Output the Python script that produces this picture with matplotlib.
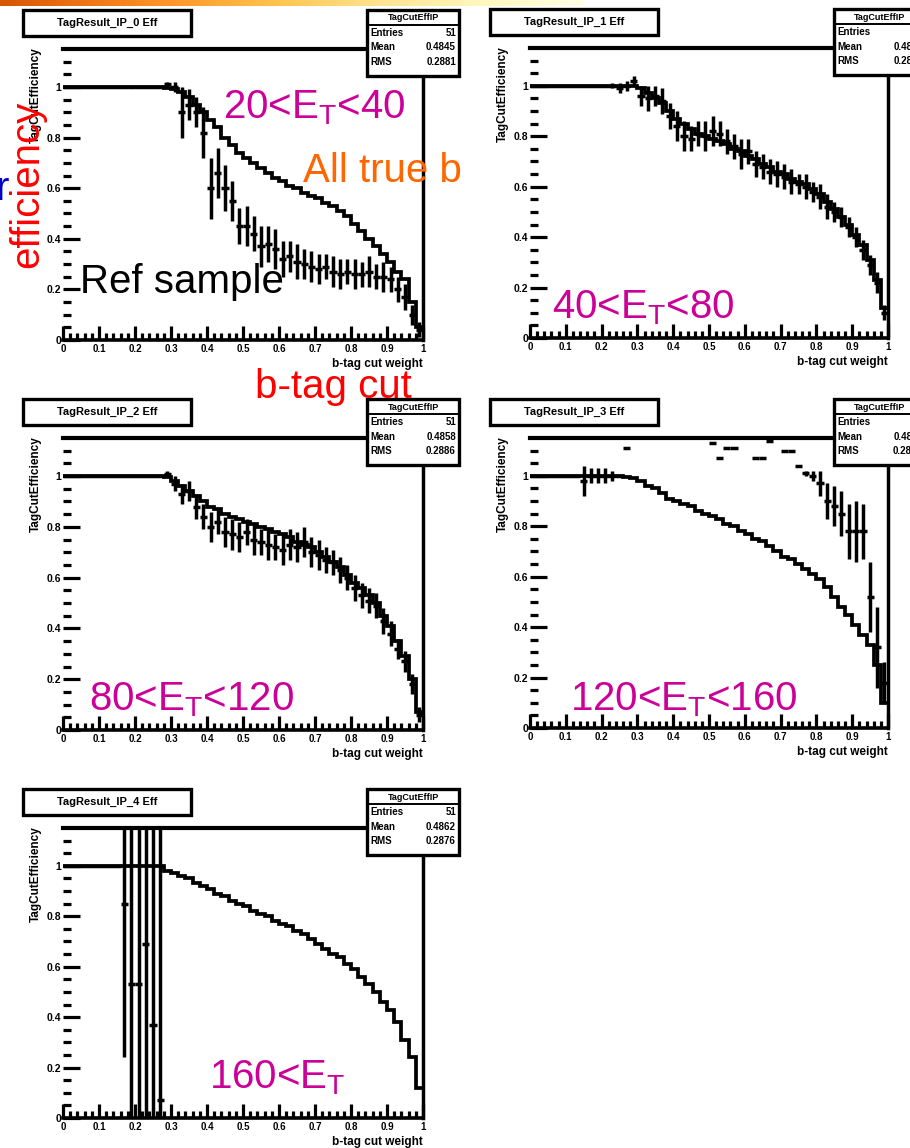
import numpy as np
import matplotlib.pyplot as plt
from matplotlib.patches import Rectangle
from matplotlib.lines import Line2D

plt.rcParams['font.family'] = ['Liberation Sans', 'DejaVu Sans']
plt.rcParams['mathtext.fontset'] = 'custom'
plt.rcParams['mathtext.rm'] = 'Liberation Sans'
plt.rcParams['mathtext.it'] = 'Liberation Sans:italic'

nan = float('nan')
W, H = 910, 1148

# 50 bins of b-tag cut weight between 0 and 1
edges = np.linspace(0, 1, 51)
centers = 0.5 * (edges[:-1] + edges[1:])

x_tick_vals = [0, 0.1, 0.2, 0.3, 0.4, 0.5, 0.6, 0.7, 0.8, 0.9, 1]
x_tick_labels = ['0', '0.1', '0.2', '0.3', '0.4', '0.5', '0.6', '0.7', '0.8', '0.9', '1']
y_tick_vals = [0, 0.2, 0.4, 0.6, 0.8, 1]
y_tick_labels = ['0', '0.2', '0.4', '0.6', '0.8', '1']

# ---- 20 < ET < 40 ----
all_b_20_40 = [1.0, 1.0, 1.0, 1.0, 1.0, 1.0, 1.0, 1.0, 1.0, 1.0,
               1.0, 1.0, 1.0, 1.0, 0.995, 0.99, 0.98, 0.96, 0.93, 0.90,
               0.87, 0.84, 0.80, 0.77, 0.74, 0.72, 0.70, 0.68, 0.66, 0.64,
               0.63, 0.61, 0.60, 0.58, 0.57, 0.56, 0.54, 0.53, 0.51, 0.49,
               0.46, 0.43, 0.40, 0.37, 0.34, 0.31, 0.27, 0.24, 0.15, 0.05]
ref_20_40 = [1.0, 1.0, 1.0, 1.0, 1.0, 1.0, 1.0, 1.0, 1.0, 1.0,
             1.0, 1.0, 1.0, 1.0, 1.01, 1.0, 0.90, 0.93, 0.90, 0.82,
             0.60, 0.66, 0.60, 0.55, 0.45, 0.45, 0.42, 0.37, 0.38, 0.36,
             0.32, 0.33, 0.31, 0.30, 0.29, 0.28, 0.29, 0.27, 0.26, 0.27,
             0.26, 0.26, 0.27, 0.25, 0.25, 0.24, 0.20, 0.17, 0.10, 0.04]
ref_err_20_40 = [0, 0, 0, 0, 0, 0, 0, 0, 0, 0,
                 0, 0, 0, 0, 0.01, 0.02, 0.10, 0.06, 0.06, 0.10,
                 0.12, 0.10, 0.09, 0.08, 0.07, 0.08, 0.07, 0.08, 0.07, 0.08,
                 0.07, 0.06, 0.07, 0.06, 0.06, 0.06, 0.05, 0.06, 0.06, 0.05,
                 0.06, 0.05, 0.06, 0.05, 0.06, 0.05, 0.05, 0.05, 0.04, 0.03]

# ---- 40 < ET < 80 ----
all_b_40_80 = [1.0, 1.0, 1.0, 1.0, 1.0, 1.0, 1.0, 1.0, 1.0, 1.0,
               1.0, 1.0, 1.0, 1.0, 1.0, 0.99, 0.97, 0.95, 0.93, 0.90,
               0.87, 0.85, 0.83, 0.81, 0.80, 0.79, 0.78, 0.77, 0.75, 0.74,
               0.72, 0.71, 0.69, 0.68, 0.66, 0.65, 0.63, 0.62, 0.61, 0.59,
               0.57, 0.54, 0.51, 0.48, 0.45, 0.41, 0.37, 0.31, 0.23, 0.12]
ref_40_80 = [1.0, 1.0, 1.0, 1.0, 1.0, 1.0, 1.0, 1.0, 1.0, 1.0,
             1.0, 1.0, 0.99, 1.0, 1.02, 0.96, 0.95, 0.96, 0.94, 0.88,
             0.84, 0.80, 0.79, 0.81, 0.80, 0.82, 0.81, 0.78, 0.76, 0.73,
             0.74, 0.69, 0.68, 0.66, 0.65, 0.64, 0.62, 0.61, 0.60, 0.58,
             0.56, 0.52, 0.50, 0.48, 0.44, 0.40, 0.35, 0.29, 0.22, 0.10]
ref_err_40_80 = [0, 0, 0, 0, 0, 0, 0, 0, 0, 0,
                 0, 0.01, 0.02, 0.02, 0.02, 0.04, 0.05, 0.04, 0.05, 0.05,
                 0.06, 0.06, 0.05, 0.05, 0.06, 0.06, 0.05, 0.05, 0.05, 0.06,
                 0.05, 0.05, 0.05, 0.05, 0.05, 0.05, 0.05, 0.04, 0.05, 0.04,
                 0.05, 0.05, 0.04, 0.04, 0.04, 0.04, 0.04, 0.04, 0.04, 0.03]

# ---- 80 < ET < 120 ----
all_b_80_120 = [1.0, 1.0, 1.0, 1.0, 1.0, 1.0, 1.0, 1.0, 1.0, 1.0,
                1.0, 1.0, 1.0, 1.0, 0.995, 0.98, 0.96, 0.94, 0.92, 0.90,
                0.88, 0.87, 0.85, 0.84, 0.83, 0.82, 0.81, 0.80, 0.79, 0.78,
                0.77, 0.76, 0.74, 0.73, 0.72, 0.70, 0.68, 0.66, 0.64, 0.61,
                0.58, 0.56, 0.53, 0.50, 0.45, 0.41, 0.35, 0.29, 0.20, 0.07]
ref_80_120 = [1.0, 1.0, 1.0, 1.0, 1.0, 1.0, 1.0, 1.0, 1.0, 1.0,
              1.0, 1.0, 1.0, 1.0, 1.01, 0.97, 0.93, 0.94, 0.88, 0.84,
              0.80, 0.82, 0.78, 0.77, 0.76, 0.78, 0.75, 0.74, 0.73, 0.72,
              0.71, 0.73, 0.72, 0.74, 0.70, 0.69, 0.67, 0.66, 0.63, 0.60,
              0.56, 0.53, 0.51, 0.49, 0.43, 0.38, 0.32, 0.27, 0.18, 0.06]
ref_err_80_120 = [0, 0, 0, 0, 0, 0, 0, 0, 0, 0,
                  0, 0, 0, 0, 0.01, 0.03, 0.04, 0.04, 0.05, 0.05,
                  0.06, 0.05, 0.06, 0.06, 0.06, 0.05, 0.06, 0.05, 0.06, 0.05,
                  0.06, 0.06, 0.06, 0.06, 0.06, 0.06, 0.05, 0.05, 0.05, 0.05,
                  0.05, 0.05, 0.05, 0.05, 0.05, 0.05, 0.04, 0.04, 0.04, 0.03]

# ---- 120 < ET < 160 ----
all_b_120_160 = [1.0, 1.0, 1.0, 1.0, 1.0, 1.0, 1.0, 1.0, 1.0, 1.0,
                 1.0, 1.0, 1.0, 0.995, 0.99, 0.98, 0.96, 0.95, 0.93, 0.91,
                 0.90, 0.89, 0.88, 0.86, 0.85, 0.84, 0.83, 0.81, 0.80, 0.78,
                 0.77, 0.75, 0.74, 0.72, 0.70, 0.68, 0.67, 0.65, 0.63, 0.61,
                 0.59, 0.56, 0.52, 0.48, 0.45, 0.41, 0.37, 0.33, 0.25, 0.10]
ref_120_160 = [1.0, 1.0, 1.0, 1.0, 1.0, 1.0, 1.0, 0.98, 1.0, 1.0,
               1.0, 1.0, 1.0, 1.11, nan, nan, nan, nan, nan, nan,
               nan, nan, nan, nan, nan, 1.13, 1.07, 1.11, 1.11, nan,
               nan, 1.07, 1.07, 1.14, nan, 1.10, 1.10, 1.04, 1.01, 1.0,
               0.97, 0.90, 0.88, 0.85, 0.78, 0.78, 0.78, 0.52, 0.32, 0.18]
ref_err_120_160 = [0, 0, 0, 0, 0, 0, 0, 0.06, 0.03, 0.03,
                   0.03, 0.02, 0, 0, 0, 0, 0, 0, 0, 0,
                   0, 0, 0, 0, 0, 0, 0, 0, 0, 0,
                   0, 0, 0, 0, 0, 0, 0, 0, 0.01, 0.02,
                   0.05, 0.07, 0.08, 0.09, 0.11, 0.12, 0.11, 0.14, 0.16, 0.08]

# ---- 160 < ET ----
all_b_160 = [1.0, 1.0, 1.0, 1.0, 1.0, 1.0, 1.0, 1.0, 1.0, 1.0,
             1.0, 1.0, 1.0, 1.0, 0.98, 0.97, 0.96, 0.95, 0.93, 0.92,
             0.91, 0.89, 0.88, 0.86, 0.85, 0.84, 0.82, 0.81, 0.80, 0.78,
             0.77, 0.76, 0.74, 0.73, 0.71, 0.69, 0.67, 0.65, 0.64, 0.61,
             0.59, 0.56, 0.53, 0.50, 0.46, 0.43, 0.38, 0.31, 0.24, 0.12]
ref_160 = [1.0, 1.0, 1.0, 1.0, 1.0, 1.0, 1.0, 1.0, 0.85, 0.53,
           0.53, 0.69, 0.37, 0.07, nan, nan, nan, nan, nan, nan,
           nan, nan, nan, nan, nan, nan, nan, nan, nan, nan,
           nan, nan, nan, nan, nan, nan, nan, nan, nan, nan,
           nan, nan, nan, nan, nan, nan, nan, nan, nan, nan]
ref_err_160 = [0, 0, 0, 0, 0, 0, 0, 0, 0.61, 0.7,
               0.7, 0.7, 0.8, 1.1, 0, 0, 0, 0, 0, 0,
               0, 0, 0, 0, 0, 0, 0, 0, 0, 0,
               0, 0, 0, 0, 0, 0, 0, 0, 0, 0,
               0, 0, 0, 0, 0, 0, 0, 0, 0, 0]

hist_titles = ['TagResult_IP_0 Eff', 'TagResult_IP_1 Eff', 'TagResult_IP_2 Eff',
               'TagResult_IP_3 Eff', 'TagResult_IP_4 Eff']
stats_name = 'TagCutEffIP'
stats_entries = ['51', '51', '51', '51', '51']
stats_mean = ['0.4845', '0.4821', '0.4858', '0.4873', '0.4862']
stats_rms = ['0.2881', '0.2897', '0.2886', '0.2899', '0.2876']
et_labels = ['20<E$_\\mathrm{T}$<40', '40<E$_\\mathrm{T}$<80', '80<E$_\\mathrm{T}$<120',
             '120<E$_\\mathrm{T}$<160', '160<E$_\\mathrm{T}$']

panels = [(all_b_20_40, ref_20_40, ref_err_20_40),
          (all_b_40_80, ref_40_80, ref_err_40_80),
          (all_b_80_120, ref_80_120, ref_err_80_120),
          (all_b_120_160, ref_120_160, ref_err_120_160),
          (all_b_160, ref_160, ref_err_160)]

# frame pixel boxes: left, top, right, bottom
frames = [(63, 49, 423, 340), (530, 48, 888, 338), (63, 438, 423, 730),
          (530, 438, 888, 728), (63, 828, 423, 1118)]
# label positions (left x, baseline y) in pixels
et_pos = [(223, 118), (552, 318), (89, 710), (570, 710), (209, 1088)]

fig = plt.figure(figsize=(W / 100, H / 100), dpi=100)


def fx(px):
    return px / W


def fy(py):
    return 1 - py / H


def box(x0, y0, x1, y1, lw=2.4):
    fig.add_artist(Rectangle((fx(x0), fy(y1)), (x1 - x0) / W, (y1 - y0) / H,
                             transform=fig.transFigure, fc='white', ec='black',
                             lw=lw, zorder=5))


# yellow band at the top of the slide
band = fig.add_axes([0, fy(6), 0.64, 6 / H])
band.imshow(np.linspace(0, 1, 200)[None, :], aspect='auto', cmap='YlOrBr_r',
            vmin=-0.4, vmax=1.0, extent=(0, 1, 0, 1))
band.axis('off')

for i, ((all_b, ref, err), (L, T, R, B)) in enumerate(zip(panels, frames)):
    ax = fig.add_axes([fx(L), fy(B), (R - L) / W, (B - T) / H])
    ax.stairs(all_b, edges, color='black', lw=2.7, baseline=None)
    ref = np.array(ref)
    err = np.array(err)
    keep = ~np.isnan(ref)
    ax.errorbar(centers[keep], ref[keep], xerr=0.01, yerr=err[keep], fmt='none',
                ecolor='black', elinewidth=2.5, capsize=0)
    ax.set_xlim(0, 1)
    ax.set_ylim(0, 1.15)
    ax.set_xticks(x_tick_vals)
    ax.set_xticklabels(x_tick_labels, fontsize=7, fontweight='bold')
    ax.set_yticks(y_tick_vals)
    ax.set_yticklabels(y_tick_labels, fontsize=7.5, fontweight='bold')
    ax.set_xticks(np.arange(0, 1.001, 0.02), minor=True)
    ax.set_yticks(np.arange(0, 1.15, 0.05), minor=True)
    ax.tick_params(axis='both', which='both', direction='in', width=2.3)
    ax.tick_params(axis='x', which='major', length=10, pad=3)
    ax.tick_params(axis='x', which='minor', length=5)
    ax.tick_params(axis='y', which='major', length=12, pad=1)
    ax.tick_params(axis='y', which='minor', length=6)
    ax.spines['left'].set_visible(False)
    ax.spines['bottom'].set_linewidth(2.6)
    ax.spines['top'].set_linewidth(3)
    ax.spines['right'].set_linewidth(2.5)
    ax.patch.set_alpha(0)

    # histogram title pave
    box(L - 40, T - 39, L + 128, T - 13)
    fig.text(fx(L + 44), fy(T - 26), hist_titles[i], ha='center', va='center',
             fontsize=8, fontweight='bold', zorder=6)
    # stats pave
    box(L + 304, T - 39, L + 396, T + 27)
    fig.add_artist(Line2D([fx(L + 304), fx(L + 396)], [fy(T - 24), fy(T - 24)],
                          transform=fig.transFigure, color='black', lw=1.4, zorder=6))
    fig.text(fx(L + 350), fy(T - 31), stats_name, ha='center', va='center',
             fontsize=6.5, fontweight='bold', zorder=6)
    for row, (name, val) in enumerate([('Entries', stats_entries[i]),
                                       ('Mean', stats_mean[i]),
                                       ('RMS', stats_rms[i])]):
        yy = fy(T - 16 + 14.5 * row)
        fig.text(fx(L + 307), yy, name, ha='left', va='center', fontsize=7,
                 fontweight='bold', zorder=6)
        fig.text(fx(L + 393), yy, val, ha='right', va='center', fontsize=7,
                 fontweight='bold', zorder=6)
    # axis titles
    fig.text(fx(L - 27), fy(T - 2), 'TagCutEfficiency', rotation=90, ha='center',
             va='top', fontsize=8.5, fontweight='bold')
    fig.text(fx(R), fy(B + 27), 'b-tag cut weight', ha='right', va='baseline',
             fontsize=8.5, fontweight='bold')
    # ET range label
    fig.text(fx(et_pos[i][0]), fy(et_pos[i][1]), et_labels[i], color='#CC0099',
             fontsize=29, ha='left', va='baseline', zorder=7)

# slide annotations
fig.text(fx(303), fy(182), 'All true b', color='#FF6600', fontsize=29,
         ha='left', va='baseline', zorder=7)
fig.text(fx(80), fy(293), 'Ref sample', color='black', fontsize=29,
         ha='left', va='baseline', zorder=7)
fig.text(fx(255), fy(398), 'b-tag cut', color='#FF0000', fontsize=29,
         ha='left', va='baseline', zorder=7)
fig.text(fx(46), fy(268), 'efficiency', color='#FF0000', fontsize=29,
         rotation=90, ha='right', va='bottom', zorder=7)
fig.text(fx(9), fy(200), 'r', color='#0000CC', fontsize=29,
         ha='right', va='baseline', zorder=7)

fig.savefig('out.png', dpi=100)
